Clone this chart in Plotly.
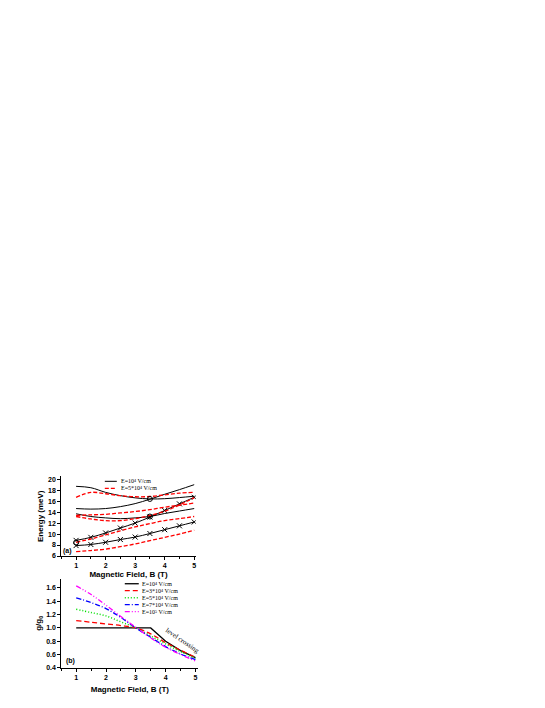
import plotly.graph_objects as go

# magnetic field values (T)
B = [1, 1.5, 2, 2.5, 3, 3.5, 4, 4.5, 5]

# panel (a): energy levels (meV), E = 10^4 V/cm (solid black)
k1 = [18.7, 18.45, 17.6, 17.0, 16.6, 16.4, 16.45, 16.65, 16.9]
k2 = [14.65, 14.55, 14.65, 15.0, 15.55, 16.35, 17.25, 18.1, 19.0]
k3 = [13.7, 13.2, 12.95, 12.8, 12.95, 13.2, 13.75, 14.2, 14.65]
kx1 = [8.85, 9.4, 10.2, 11.1, 12.0, 13.1, 14.3, 15.5, 16.7]
kx2 = [7.9, 8.1, 8.5, 9.0, 9.45, 10.1, 10.8, 11.5, 12.2]

# panel (a): E = 5*10^4 V/cm (dashed red)
r1 = [16.7, 17.6, 17.35, 17.0, 16.8, 16.85, 17.15, 17.45, 17.6]
r2 = [13.4, 13.5, 13.6, 13.85, 14.1, 14.45, 14.9, 15.25, 15.65]
r3 = [13.2, 12.75, 12.45, 12.45, 12.8, 13.4, 14.15, 15.3, 16.65]
r4 = [8.5, 9.1, 9.85, 10.6, 11.3, 11.9, 12.45, 12.8, 13.2]
r5 = [6.8, 7.0, 7.25, 7.7, 8.2, 8.8, 9.4, 10.0, 10.7]

# crossing points marked with circles
circ_B = [1, 3.5, 3.5]
circ_E = [8.45, 16.4, 13.2]

a_labels = ['E=10\u2074 V/cm', 'E=5*10\u2074 V/cm']

# panel (b): g/g0
g_labels = ['E=10\u2074 V/cm', 'E=3*10\u2074 V/cm', 'E=5*10\u2074 V/cm',
            'E=7*10\u2074 V/cm', 'E=10\u2075 V/cm']
g1 = [1.0, 1.0, 1.0, 1.0, 1.0, 1.0, 0.80, 0.66, 0.555]
g3 = [1.11, 1.085, 1.06, 1.035, 1.0, 0.91, 0.78, 0.665, 0.56]
g5 = [1.28, 1.23, 1.18, 1.09, 1.0, 0.88, 0.76, 0.645, 0.545]
g7 = [1.45, 1.38, 1.29, 1.155, 1.0, 0.86, 0.72, 0.61, 0.525]
g10 = [1.63, 1.50, 1.34, 1.17, 1.01, 0.85, 0.71, 0.60, 0.505]

W, H = 545, 708


def px(x):
    return x / W


def py(y):
    return 1 - y / H


fig = go.Figure()

# ---- panel (a)
black = dict(color='black', width=1)
red = dict(color='red', width=1.3, dash='4px,2px')
for y in [k1, k2, k3]:
    fig.add_trace(go.Scatter(x=B, y=y, mode='lines', line_shape='spline',
                             line=black, showlegend=False, xaxis='x', yaxis='y'))
for y in [kx1, kx2]:
    fig.add_trace(go.Scatter(x=B, y=y, mode='lines+markers', line_shape='spline',
                             line=black,
                             marker=dict(symbol='x-thin-open', size=5,
                                         line=dict(color='black', width=1)),
                             showlegend=False, xaxis='x', yaxis='y'))
for y in [r1, r2, r3, r4, r5]:
    fig.add_trace(go.Scatter(x=B, y=y, mode='lines', line_shape='spline',
                             line=red, showlegend=False, xaxis='x', yaxis='y'))
fig.add_trace(go.Scatter(x=circ_B, y=circ_E, mode='markers',
                         marker=dict(symbol='circle-open', size=5, color='black',
                                     line=dict(width=1)),
                         showlegend=False, xaxis='x', yaxis='y'))

# ---- panel (b)
styles = [
    dict(color='black', width=1.3, dash='solid'),
    dict(color='red', width=1.3, dash='5px,3px'),
    dict(color='#00e000', width=1.5, dash='1px,2px'),
    dict(color='blue', width=1.3, dash='5px,2px,1px,2px'),
    dict(color='magenta', width=1.3, dash='5px,2px,1px,2px,1px,2px'),
]
for lab, y, st in zip(g_labels, [g1, g3, g5, g7, g10], styles):
    fig.add_trace(go.Scatter(x=B, y=y, mode='lines',
                             line_shape='linear' if y is g1 else 'spline',
                             line=st, name=lab, showlegend=False,
                             xaxis='x2', yaxis='y2'))

# compact legends (plotly's own legend rows are too tall for this size)
shapes = []
annotations = []
legfont = dict(family='Liberation Serif', size=6, color='black')
for i, (lab, st) in enumerate(zip(a_labels, [black, red])):
    yy = 475 + i * 7
    shapes.append(dict(type='line', xref='paper', yref='paper',
                       x0=px(97), x1=px(109), y0=py(yy), y1=py(yy), line=st))
    annotations.append(dict(text=lab, x=px(111), y=py(yy), xref='paper', yref='paper',
                            xanchor='left', yanchor='middle', showarrow=False,
                            font=legfont))
for i, (lab, st) in enumerate(zip(g_labels, styles)):
    yy = 578 + i * 7
    shapes.append(dict(type='line', xref='paper', yref='paper',
                       x0=px(117), x1=px(131), y0=py(yy), y1=py(yy), line=st))
    annotations.append(dict(text=lab, x=px(132), y=py(yy), xref='paper', yref='paper',
                            xanchor='left', yanchor='middle', showarrow=False,
                            font=legfont))

annotations += [
    dict(text='<b>(a)</b>', x=0.72, y=7.0, xref='x', yref='y', showarrow=False,
         font=dict(family='Liberation Sans', size=7)),
    dict(text='<b>(b)</b>', x=0.8, y=0.51, xref='x2', yref='y2', showarrow=False,
         font=dict(family='Liberation Sans', size=7)),
    dict(text='level crossing', x=4.58, y=0.81, xref='x2', yref='y2', showarrow=False,
         textangle=34, font=dict(family='Liberation Serif', size=7)),
]

tickfont = dict(family='Liberation Sans', size=7, color='black')
titlefont = dict(family='Liberation Sans', size=8, color='black')
axis_common = dict(showline=True, linecolor='black', linewidth=1, showgrid=False,
                   zeroline=False, ticks='outside', ticklen=3, tickcolor='black',
                   tickfont=tickfont)
xt = [1, 2, 3, 4, 5]

fig.update_layout(
    width=W, height=H,
    paper_bgcolor='white', plot_bgcolor='white',
    margin=dict(l=0, r=0, t=0, b=0),
    font=dict(family='Liberation Sans', color='black'),
    showlegend=False,
    xaxis=dict(axis_common, domain=[0.098, 0.345], range=[0.5, 5.05],
               tickvals=xt, ticktext=['<b>%d</b>' % v for v in xt],
               minor=dict(ticks='outside', ticklen=2, dtick=0.5, tickcolor='black'),
               title=dict(text='<b>Magnetic Field, B (T)</b>', font=titlefont, standoff=2),
               anchor='y'),
    yaxis=dict(axis_common, domain=[0.223, 0.336], range=[6, 20.5],
               tickvals=list(range(6, 21, 2)),
               ticktext=['<b>%d</b>' % v for v in range(6, 21, 2)],
               title=dict(text='<b>Energy (meV)</b>', font=titlefont, standoff=3),
               anchor='x'),
    xaxis2=dict(axis_common, domain=[0.098, 0.35], range=[0.5, 5.1],
                tickvals=xt, ticktext=['<b>%d</b>' % v for v in xt],
                minor=dict(ticks='outside', ticklen=2, dtick=0.5, tickcolor='black'),
                title=dict(text='<b>Magnetic Field, B (T)</b>', font=titlefont, standoff=6),
                anchor='y2'),
    yaxis2=dict(axis_common, domain=[0.064, 0.191], range=[0.4, 1.74],
                tickvals=[0.4, 0.6, 0.8, 1.0, 1.2, 1.4, 1.6],
                ticktext=['<b>%.1f</b>' % v for v in [0.4, 0.6, 0.8, 1.0, 1.2, 1.4, 1.6]],
                title=dict(text='<b>g/g<sub>0</sub></b>', font=titlefont, standoff=3),
                anchor='x2'),
    shapes=shapes,
    annotations=annotations,
)

fig.write_html("out.html")
